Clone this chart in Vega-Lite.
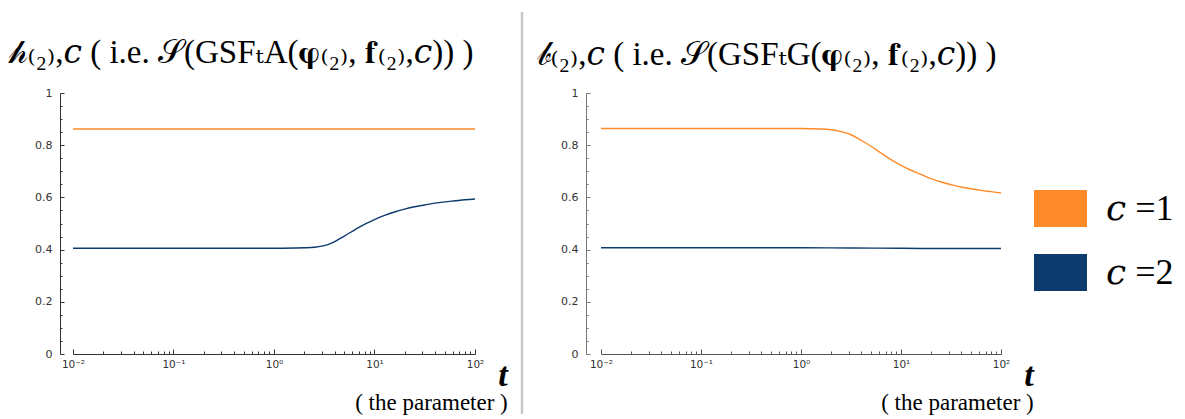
{
  "$schema": "https://vega.github.io/schema/vega-lite/v6.json",
  "padding": {"left": 8, "top": 10, "right": 0, "bottom": 0},
  "background": "white",
  "config": {
    "view": {"stroke": null},
    "concat": {"spacing": 12},
    "title": {"font": "Liberation Serif, DejaVu Serif", "fontSize": 33, "fontWeight": "normal", "color": "#000", "anchor": "start"},
    "axis": {"grid": false, "title": null, "labelFont": "DejaVu Sans", "labelFontSize": 10.5, "labelColor": "#333"}
  },
  "datasets": {
    "curves": [
      {"p": "A", "c": "1", "t": 0.01, "v": 0.862},
      {"p": "A", "c": "1", "t": 0.1, "v": 0.862},
      {"p": "A", "c": "1", "t": 1, "v": 0.862},
      {"p": "A", "c": "1", "t": 10, "v": 0.862},
      {"p": "A", "c": "1", "t": 100, "v": 0.862},
      {"p": "A", "c": "2", "t": 0.01, "v": 0.405},
      {"p": "A", "c": "2", "t": 0.0316, "v": 0.405},
      {"p": "A", "c": "2", "t": 0.1, "v": 0.405},
      {"p": "A", "c": "2", "t": 0.316, "v": 0.405},
      {"p": "A", "c": "2", "t": 1, "v": 0.405},
      {"p": "A", "c": "2", "t": 1.585, "v": 0.406},
      {"p": "A", "c": "2", "t": 1.995, "v": 0.407},
      {"p": "A", "c": "2", "t": 2.512, "v": 0.409},
      {"p": "A", "c": "2", "t": 3.162, "v": 0.415},
      {"p": "A", "c": "2", "t": 3.981, "v": 0.43},
      {"p": "A", "c": "2", "t": 5.012, "v": 0.452},
      {"p": "A", "c": "2", "t": 6.31, "v": 0.475},
      {"p": "A", "c": "2", "t": 7.943, "v": 0.497},
      {"p": "A", "c": "2", "t": 10, "v": 0.515},
      {"p": "A", "c": "2", "t": 12.59, "v": 0.531},
      {"p": "A", "c": "2", "t": 15.85, "v": 0.544},
      {"p": "A", "c": "2", "t": 19.95, "v": 0.555},
      {"p": "A", "c": "2", "t": 25.12, "v": 0.564},
      {"p": "A", "c": "2", "t": 31.62, "v": 0.571},
      {"p": "A", "c": "2", "t": 39.81, "v": 0.578},
      {"p": "A", "c": "2", "t": 50.12, "v": 0.583},
      {"p": "A", "c": "2", "t": 63.1, "v": 0.587},
      {"p": "A", "c": "2", "t": 79.43, "v": 0.591},
      {"p": "A", "c": "2", "t": 100, "v": 0.594},
      {"p": "B", "c": "1", "t": 0.01, "v": 0.864},
      {"p": "B", "c": "1", "t": 0.0316, "v": 0.864},
      {"p": "B", "c": "1", "t": 0.1, "v": 0.864},
      {"p": "B", "c": "1", "t": 0.316, "v": 0.864},
      {"p": "B", "c": "1", "t": 1, "v": 0.864},
      {"p": "B", "c": "1", "t": 1.585, "v": 0.862},
      {"p": "B", "c": "1", "t": 1.995, "v": 0.859},
      {"p": "B", "c": "1", "t": 2.512, "v": 0.852},
      {"p": "B", "c": "1", "t": 3.162, "v": 0.84},
      {"p": "B", "c": "1", "t": 3.981, "v": 0.819},
      {"p": "B", "c": "1", "t": 5.012, "v": 0.796},
      {"p": "B", "c": "1", "t": 6.31, "v": 0.77},
      {"p": "B", "c": "1", "t": 7.943, "v": 0.745},
      {"p": "B", "c": "1", "t": 10, "v": 0.723},
      {"p": "B", "c": "1", "t": 12.59, "v": 0.704},
      {"p": "B", "c": "1", "t": 15.85, "v": 0.688},
      {"p": "B", "c": "1", "t": 19.95, "v": 0.672},
      {"p": "B", "c": "1", "t": 25.12, "v": 0.659},
      {"p": "B", "c": "1", "t": 31.62, "v": 0.649},
      {"p": "B", "c": "1", "t": 39.81, "v": 0.64},
      {"p": "B", "c": "1", "t": 50.12, "v": 0.633},
      {"p": "B", "c": "1", "t": 63.1, "v": 0.627},
      {"p": "B", "c": "1", "t": 79.43, "v": 0.622},
      {"p": "B", "c": "1", "t": 100, "v": 0.617},
      {"p": "B", "c": "2", "t": 0.01, "v": 0.407},
      {"p": "B", "c": "2", "t": 0.1, "v": 0.407},
      {"p": "B", "c": "2", "t": 1, "v": 0.407},
      {"p": "B", "c": "2", "t": 3.162, "v": 0.406},
      {"p": "B", "c": "2", "t": 10, "v": 0.405},
      {"p": "B", "c": "2", "t": 31.62, "v": 0.404},
      {"p": "B", "c": "2", "t": 100, "v": 0.404}
    ]
  },
  "hconcat": [
    {
      "title": {"text": "𝒽₍₂₎,𝑐 ( i.e. 𝒮(GSFₜA(𝛗₍₂₎, 𝐟₍₂₎,𝑐)) )", "dx": -26, "offset": 17},
      "vconcat": [
        {
          "width": 402,
          "height": 261,
          "data": {"name": "curves"},
          "transform": [{"filter": "datum.p == 'A'"}],
          "title": {"text": "t", "subtitle": "( the parameter )", "orient": "bottom", "anchor": "end", "dx": 24, "offset": -11, "fontSize": 34, "fontStyle": "italic", "fontWeight": "bold", "subtitleFont": "Liberation Serif", "subtitleFontSize": 23, "subtitleColor": "#000", "subtitlePadding": -1},
          "mark": {"type": "line", "interpolate": "monotone", "strokeWidth": 1.4},
          "encoding": {
            "x": {"field": "t", "type": "quantitative",
              "scale": {"type": "log", "domain": [0.01, 100], "nice": false},
              "axis": {"values": [0.01,0.02,0.03,0.04,0.05,0.06,0.07,0.08,0.09,0.1,0.2,0.3,0.4,0.5,0.6,0.7,0.8,0.9,1,2,3,4,5,6,7,8,9,10,20,30,40,50,60,70,80,90,100],
                "domainColor": "#333", "tickColor": "#333", "labelFlush": false, "labelPadding": 10,
                "tickSize": {"condition": {"test": "abs(log(datum.value)/LN10 - round(log(datum.value)/LN10)) < 0.000001", "value": -5}, "value": -3},
                "labelExpr": "abs(log(datum.value)/LN10 - round(log(datum.value)/LN10)) > 0.000001 ? '' : round(log(datum.value)/LN10) == -2 ? '10⁻²' : round(log(datum.value)/LN10) == -1 ? '10⁻¹' : round(log(datum.value)/LN10) == 0 ? '10⁰' : round(log(datum.value)/LN10) == 1 ? '10¹' : '10²'"}},
            "y": {"field": "v", "type": "quantitative",
              "scale": {"domain": [0, 1], "nice": false},
              "axis": {"values": [0,0.05,0.1,0.15,0.2,0.25,0.3,0.35,0.4,0.45,0.5,0.55,0.6,0.65,0.7,0.75,0.8,0.85,0.9,0.95,1],
                "offset": 13, "domainColor": "#333", "tickColor": "#333", "labelPadding": 12, "labelFontSize": 11,
                "tickSize": {"condition": {"test": "abs(datum.value*5 - round(datum.value*5)) < 0.000001", "value": -4}, "value": -2},
                "labelExpr": "abs(datum.value*5 - round(datum.value*5)) < 0.000001 ? format(datum.value, '~g') : ''"}},
            "color": {"field": "c", "type": "nominal",
              "scale": {"domain": ["1", "2"], "range": ["#ff8a2a", "#0d3b6d"]},
              "legend": {"orient": "none", "legendX": 961, "legendY": 89, "title": null,
                "symbolType": "M-1,-0.7H1V0.7H-1Z", "symbolSize": 2809, "symbolStrokeWidth": 0,
                "labelFont": "Liberation Serif, DejaVu Serif", "labelFontSize": 36, "labelColor": "#000", "labelOffset": 19, "rowPadding": 18,
                "labelExpr": "'𝑐 =' + datum.label",
                "encode": {"symbols": {"update": {"fill": {"scale": "color", "field": "value"}, "stroke": {"value": "transparent"}, "opacity": {"value": 1}}}}}}
          }
        }
      ]
    },
    {
      "width": 2,
      "height": 261,
      "data": {"values": [{}]},
      "mark": {"type": "rule", "color": "#c8c8c8", "strokeWidth": 2.5, "clip": false},
      "encoding": {
        "y": {"datum": 1.31, "type": "quantitative", "scale": {"domain": [0, 1], "nice": false}, "axis": null},
        "y2": {"datum": -0.23}
      }
    },
    {
      "title": {"text": "𝒷₍₂₎,𝑐 ( i.e. 𝒮(GSFₜG(𝛗₍₂₎, 𝐟₍₂₎,𝑐)) )", "dx": -24, "offset": 15},
      "vconcat": [
        {
          "width": 400,
          "height": 261,
          "data": {"name": "curves"},
          "transform": [{"filter": "datum.p == 'B'"}],
          "title": {"text": "t", "subtitle": "( the parameter )", "orient": "bottom", "anchor": "end", "dx": 24, "offset": -11, "fontSize": 34, "fontStyle": "italic", "fontWeight": "bold", "subtitleFont": "Liberation Serif", "subtitleFontSize": 23, "subtitleColor": "#000", "subtitlePadding": -1},
          "mark": {"type": "line", "interpolate": "monotone", "strokeWidth": 1.4},
          "encoding": {
            "x": {"field": "t", "type": "quantitative",
              "scale": {"type": "log", "domain": [0.01, 100], "nice": false},
              "axis": {"values": [0.01,0.02,0.03,0.04,0.05,0.06,0.07,0.08,0.09,0.1,0.2,0.3,0.4,0.5,0.6,0.7,0.8,0.9,1,2,3,4,5,6,7,8,9,10,20,30,40,50,60,70,80,90,100],
                "domainColor": "#555", "tickColor": "#555", "labelFlush": false, "labelPadding": 10,
                "tickSize": {"condition": {"test": "abs(log(datum.value)/LN10 - round(log(datum.value)/LN10)) < 0.000001", "value": -5}, "value": -3},
                "labelExpr": "abs(log(datum.value)/LN10 - round(log(datum.value)/LN10)) > 0.000001 ? '' : round(log(datum.value)/LN10) == -2 ? '10⁻²' : round(log(datum.value)/LN10) == -1 ? '10⁻¹' : round(log(datum.value)/LN10) == 0 ? '10⁰' : round(log(datum.value)/LN10) == 1 ? '10¹' : '10²'"}},
            "y": {"field": "v", "type": "quantitative",
              "scale": {"domain": [0, 1], "nice": false},
              "axis": {"values": [0,0.05,0.1,0.15,0.2,0.25,0.3,0.35,0.4,0.45,0.5,0.55,0.6,0.65,0.7,0.75,0.8,0.85,0.9,0.95,1],
                "offset": 15, "domainColor": "#777", "tickColor": "#777", "labelPadding": 12, "labelFontSize": 11,
                "tickSize": {"condition": {"test": "abs(datum.value*5 - round(datum.value*5)) < 0.000001", "value": -4}, "value": -2},
                "labelExpr": "abs(datum.value*5 - round(datum.value*5)) < 0.000001 ? format(datum.value, '~g') : ''"}},
            "color": {"field": "c", "type": "nominal",
              "scale": {"domain": ["1", "2"], "range": ["#ff8a2a", "#0d3b6d"]}}
          }
        }
      ]
    }
  ]
}
